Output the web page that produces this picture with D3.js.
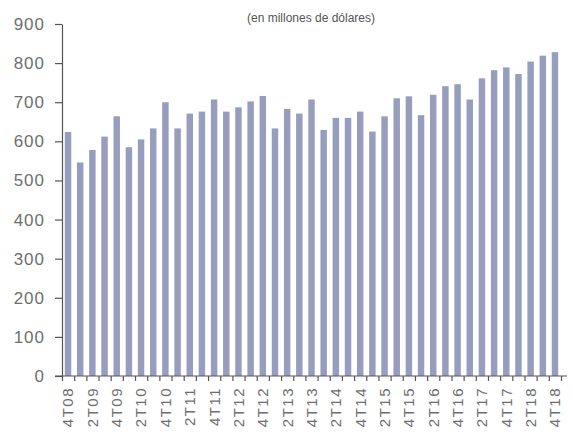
<!DOCTYPE html>
<html>
<head>
<meta charset="utf-8">
<script src="https://cdn.jsdelivr.net/npm/d3@7"></script>
<style>
    body { margin: 0; background: #fff; }
    svg { display: block; }
</style>
</head>
<body>
<svg width="573" height="437"></svg>
<script>
// quarters 4T08 .. 4T18
var quarters = ["4T08",
    "1T09", "2T09", "3T09", "4T09",
    "1T10", "2T10", "3T10", "4T10",
    "1T11", "2T11", "3T11", "4T11",
    "1T12", "2T12", "3T12", "4T12",
    "1T13", "2T13", "3T13", "4T13",
    "1T14", "2T14", "3T14", "4T14",
    "1T15", "2T15", "3T15", "4T15",
    "1T16", "2T16", "3T16", "4T16",
    "1T17", "2T17", "3T17", "4T17",
    "1T18", "2T18", "3T18", "4T18"];

var values = [624,
    546, 578, 612, 664,
    585, 605, 633, 700,
    633, 671, 676, 707,
    676, 687, 702, 716,
    633, 683, 671, 707,
    629, 660, 660, 676,
    625, 664, 710, 715,
    667, 719, 741, 746,
    707, 761, 782, 789,
    772, 804, 819, 828];

var yTicks = [0, 100, 200, 300, 400, 500, 600, 700, 800, 900];
var shownLabels = quarters.filter(function (d, i) { return i % 2 === 0; });

var svg = d3.select("svg");
// plot area (note: "top" is taken by window.top)
var pLeft = 62, pRight = 561, pTop = 24, pBottom = 376;

var x = d3.scaleBand()
    .domain(quarters)
    .range([pLeft, pRight])
    .paddingInner(0.47)
    .paddingOuter(0.23);

// boundaries for the small ticks between bars
var xEdge = d3.scaleLinear()
    .domain([0, quarters.length])
    .range([pLeft, pRight]);

var y = d3.scaleLinear()
    .domain([0, 900])
    .range([pBottom, pTop]);

var data = quarters.map(function (q, i) {
    return {q: q, v: values[i]};
});

svg.append("text")
    .attr("x", 311)
    .attr("y", 22)
    .attr("text-anchor", "middle")
    .attr("font-family", "Liberation Sans, Arial, sans-serif")
    .attr("font-size", 12)
    .attr("fill", "#555")
    .text("(en millones de dólares)");

svg.selectAll("rect.bar")
    .data(data)
    .enter().append("rect")
    .attr("class", "bar")
    .attr("x", function (d) { return x(d.q); })
    .attr("width", x.bandwidth())
    .attr("y", function (d) { return y(d.v); })
    .attr("height", function (d) { return y(0) - y(d.v); })
    .attr("fill", "#979dbc");

var yAxis = svg.append("g")
    .attr("transform", "translate(" + pLeft + ",0)")
    .call(d3.axisLeft(y).tickValues(yTicks).tickSize(7).tickPadding(10).tickSizeOuter(0));

var xTicks = svg.append("g")
    .attr("transform", "translate(0," + pBottom + ")")
    .call(d3.axisBottom(xEdge).tickValues(d3.range(quarters.length + 1)).tickSize(5).tickFormat(""));
xTicks.select(".domain").attr("d", "M" + (pLeft - 7) + ",0H" + (pRight + 6));

var xLabels = svg.append("g")
    .attr("transform", "translate(0," + pBottom + ")")
    .call(d3.axisBottom(x).tickValues(shownLabels).tickSize(0));
xLabels.select(".domain").remove();
xLabels.selectAll("text")
    .attr("transform", "rotate(-90)")
    .attr("text-anchor", "end")
    .attr("x", -11)
    .attr("y", 0)
    .attr("dy", "0.36em");

svg.selectAll(".domain, .tick line").attr("stroke", "#555").attr("stroke-width", 1.2);
svg.selectAll(".tick text")
    .attr("fill", "#6e6e6e")
    .attr("font-family", "Liberation Sans, Arial, sans-serif");
yAxis.selectAll("text").attr("font-size", 17).attr("letter-spacing", 1);
xLabels.selectAll("text").attr("font-size", 15).attr("letter-spacing", 1.5);
</script>
</body>
</html>
